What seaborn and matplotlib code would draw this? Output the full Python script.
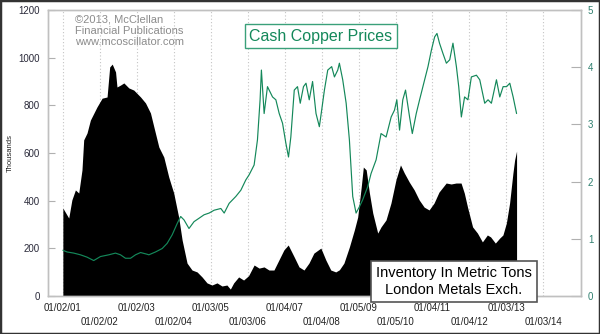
import matplotlib
matplotlib.use("Agg")
import matplotlib.pyplot as plt
import pandas as pd
import seaborn as sns

# ---- data ----
inv_dates = [
    "2001-01-02", "2001-03-01", "2001-04-01", "2001-05-06", "2001-06-08", "2001-07-10",
    "2001-07-27", "2001-08-29", "2001-10-01", "2001-12-05", "2002-01-25", "2002-03-15",
    "2002-04-10", "2002-05-05", "2002-06-07", "2002-06-21", "2002-07-26", "2002-08-28",
    "2002-10-16", "2002-12-04", "2003-02-09", "2003-03-30", "2003-05-18", "2003-06-21",
    "2003-08-09", "2003-09-27", "2003-11-15", "2004-01-03", "2004-02-21", "2004-03-26",
    "2004-05-14", "2004-07-02", "2004-08-21", "2004-10-09", "2004-11-27", "2005-01-15",
    "2005-03-06", "2005-04-24", "2005-06-12", "2005-07-16", "2005-08-18", "2005-10-06",
    "2005-11-24", "2006-01-12", "2006-03-08", "2006-04-26", "2006-06-14", "2006-08-02",
    "2006-09-20", "2006-11-08", "2006-12-27", "2007-02-08", "2007-04-08", "2007-05-26",
    "2007-07-14", "2007-09-01", "2007-10-20", "2007-12-28", "2008-02-15", "2008-04-04",
    "2008-05-23", "2008-06-28", "2008-08-12", "2008-10-05", "2008-11-23", "2008-12-26",
    "2009-01-30", "2009-02-20", "2009-03-20", "2009-04-21", "2009-05-24", "2009-07-12",
    "2009-08-14", "2009-10-02", "2009-11-20", "2010-01-08", "2010-02-22", "2010-04-01",
    "2010-05-20", "2010-07-08", "2010-08-26", "2010-10-14", "2010-12-02", "2011-01-20",
    "2011-03-10", "2011-05-20", "2011-07-08", "2011-08-26", "2011-10-14", "2011-11-15",
    "2011-12-17", "2012-02-05", "2012-03-24", "2012-05-12", "2012-06-30", "2012-08-01",
    "2012-09-17", "2012-10-30", "2012-12-01", "2013-01-04", "2013-02-05", "2013-03-10",
    "2013-03-27", "2013-04-15",
]
inv_values = [
    369, 327, 403, 445, 432, 529,
    655, 684, 738, 793, 830, 835,
    961, 973, 940, 877, 885, 894,
    873, 864, 835, 810, 768, 709,
    625, 583, 499, 432, 331, 235,
    138, 109, 101, 80, 55, 46,
    55, 42, 46, 29, 55, 80,
    67, 85, 130, 117, 122, 109,
    109, 151, 193, 214, 164, 122,
    109, 138, 180, 201, 151, 109,
    101, 110, 138, 206, 277, 331,
    457, 541, 529, 432, 348, 264,
    290, 319, 390, 487, 550, 516,
    478, 445, 403, 373, 361, 390,
    436, 474, 470, 474, 474, 432,
    373, 290, 264, 227, 256, 248,
    222, 243, 256, 306, 390, 516,
    571, 608,
]

cu_dates = [
    "2001-01-02", "2001-02-12", "2001-04-20", "2001-06-25", "2001-08-28", "2001-11-03",
    "2002-01-09", "2002-04-01", "2002-06-06", "2002-07-26", "2002-09-13", "2002-11-02",
    "2002-12-21", "2003-02-09", "2003-04-15", "2003-05-02", "2003-07-07", "2003-09-11",
    "2003-10-30", "2003-12-19", "2004-02-07", "2004-03-12", "2004-04-14", "2004-06-02",
    "2004-07-22", "2004-09-10", "2004-10-29", "2004-12-18", "2005-02-06", "2005-04-13",
    "2005-05-16", "2005-07-04", "2005-09-08", "2005-10-28", "2005-12-16", "2006-01-18",
    "2006-03-08", "2006-04-10", "2006-05-06", "2006-05-19", "2006-06-15", "2006-07-18",
    "2006-09-06", "2006-10-09", "2006-11-11", "2006-12-14", "2007-01-16", "2007-02-11",
    "2007-03-06", "2007-04-09", "2007-05-11", "2007-06-07", "2007-07-09", "2007-08-03",
    "2007-09-04", "2007-10-07", "2007-11-10", "2007-12-13", "2008-01-05", "2008-02-01",
    "2008-03-05", "2008-04-13", "2008-05-10", "2008-06-12", "2008-06-28", "2008-07-31",
    "2008-09-03", "2008-10-05", "2008-11-07", "2008-12-10", "2009-01-12", "2009-02-13",
    "2009-04-04", "2009-05-07", "2009-06-26", "2009-08-14", "2009-10-03", "2009-11-22",
    "2009-12-25", "2010-01-17", "2010-02-13", "2010-03-17", "2010-04-13", "2010-05-23",
    "2010-06-19", "2010-07-28", "2010-08-30", "2010-10-19", "2010-11-21", "2010-12-25",
    "2011-01-26", "2011-02-18", "2011-03-15", "2011-04-18", "2011-05-22", "2011-06-24",
    "2011-07-26", "2011-08-29", "2011-09-21", "2011-10-17", "2011-11-18", "2011-12-21",
    "2012-01-24", "2012-03-14", "2012-04-16", "2012-06-04", "2012-07-07", "2012-08-09",
    "2012-09-28", "2012-10-31", "2012-12-03", "2013-01-06", "2013-02-07", "2013-03-12",
    "2013-04-15",
]
cu_values = [
    0.80, 0.77, 0.75, 0.72, 0.68, 0.62,
    0.69, 0.72, 0.75, 0.72, 0.66, 0.66,
    0.72, 0.76, 0.73, 0.72, 0.77, 0.83,
    0.92, 1.07, 1.27, 1.39, 1.33, 1.18,
    1.30, 1.36, 1.42, 1.45, 1.50, 1.53,
    1.45, 1.62, 1.74, 1.85, 2.03, 2.12,
    2.29, 2.73, 3.43, 3.95, 3.19, 3.66,
    3.48, 3.43, 3.19, 3.02, 2.67, 2.43,
    2.78, 3.60, 3.66, 3.37, 3.66, 3.72,
    3.43, 3.75, 3.19, 2.96, 3.25, 3.60,
    3.95, 4.01, 3.83, 3.95, 4.07, 3.78,
    3.37, 2.73, 1.74, 1.45, 1.56, 1.68,
    1.91, 2.14, 2.38, 2.84, 2.78, 3.13,
    3.25, 3.43, 2.90, 3.43, 3.60, 3.13,
    2.84, 3.19, 3.43, 3.78, 4.01, 4.30,
    4.53, 4.59, 4.42, 4.24, 4.07, 4.13,
    4.42, 4.01, 3.66, 3.13, 3.48, 3.43,
    3.83, 3.86, 3.78, 3.37, 3.43, 3.37,
    3.78, 3.48, 3.66, 3.66, 3.72, 3.48,
    3.19,
]

tick_dates = ["2001-01-02", "2002-01-02", "2003-01-02", "2004-01-02", "2005-01-03",
              "2006-01-03", "2007-01-04", "2008-01-04", "2009-01-05", "2010-01-05",
              "2011-01-04", "2012-01-04", "2013-01-03", "2014-01-03"]
tick_labels = ["01/02/01", "01/02/02", "01/02/03", "01/02/04", "01/03/05", "01/03/06",
               "01/04/07", "01/04/08", "01/05/09", "01/05/10", "01/04/11", "01/04/12",
               "01/03/13", "01/03/14"]
left_ticks = [0, 200, 400, 600, 800, 1000, 1200]
right_ticks = [0, 1, 2, 3, 4, 5]

# ---- style ----
sns.set_style("white")
plt.rcParams["font.family"] = ["Liberation Sans", "DejaVu Sans"]

W, H = 600, 334
fig = plt.figure(figsize=(6.0, 3.34), dpi=100)
ax = fig.add_axes([48 / W, 1 - 296 / H, (581 - 48) / W, (296 - 10) / H])

inv_df = pd.DataFrame({"date": pd.to_datetime(inv_dates), "inv": inv_values})
cu_df = pd.DataFrame({"date": pd.to_datetime(cu_dates), "price": cu_values})

ax.fill_between(inv_df["date"], inv_df["inv"], 0, color="black", lw=0, zorder=2)

ax2 = ax.twinx()
sns.lineplot(data=cu_df, x="date", y="price", ax=ax2, color="#14885a", lw=0.85)

xmin, xmax = pd.Timestamp("2000-08-08"), pd.Timestamp("2015-01-12")
ax.set_xlim(xmin, xmax)
ax2.set_xlim(xmin, xmax)
ax.set_ylim(0, 1200)
ax2.set_ylim(0, 5)

tdates = pd.to_datetime(tick_dates)
ax.set_xticks(tdates)
ax.set_xticklabels([lab if i % 2 == 0 else "\n" + lab for i, lab in enumerate(tick_labels)],
                   fontsize=7, color="#222222", linespacing=1.55)
ax.tick_params(axis="x", length=0, pad=5)
ax.grid(axis="x", linestyle=(0, (1, 2)), color="#c4c4c4", lw=0.8, zorder=0)
ax.grid(axis="y", visible=False)
ax.set_axisbelow(True)

ax.set_yticks(left_ticks)
ax.set_yticklabels([str(v) for v in left_ticks], fontsize=7, color="#2a2a3a")
ax.tick_params(axis="y", direction="in", length=5, color="#b0b0b0", pad=6)

ax2.set_yticks(right_ticks)
ax2.set_yticklabels([str(v) for v in right_ticks], fontsize=7, color="#2e7f6e")
ax2.tick_params(axis="y", direction="in", length=7, color="#b0b0b0", pad=5)
ax2.set_xlabel("")
ax2.set_ylabel("")
ax.set_xlabel("")
ax.set_ylabel("")
ax2.grid(False)

for a in (ax, ax2):
    for s in a.spines.values():
        s.set_color("#c0c0c0")
        s.set_linewidth(1.0)

# ---- texts ----
fig.text(10 / W, 1 - 153 / H, "Thousands", rotation=90, fontsize=5.5,
         color="#222222", ha="center", va="center")

fig.text(75 / W, 1 - 15 / H, "©2013, McClellan\nFinancial Publications\nwww.mcoscillator.com",
         fontsize=8, color="#8c8c8c", ha="left", va="top", linespacing=1.15)

fig.text(321 / W, 1 - 36 / H, "Cash Copper Prices", fontsize=11.5, color="#14885a",
         ha="center", va="center",
         bbox=dict(boxstyle="square,pad=0.3", fc="white", ec="#3aa07a", lw=1.0))

fig.text(454 / W, 1 - 281.5 / H, "Inventory In Metric Tons\nLondon Metals Exch.",
         fontsize=10.5, color="black", ha="center", va="center", linespacing=1.25,
         bbox=dict(boxstyle="square,pad=0.35", fc="white", ec="#555555", lw=1.2),
         zorder=10)

# figure border
fig.patches.append(plt.Rectangle((0, 0), 1, 1, transform=fig.transFigure,
                                 fill=False, ec="#333333", lw=2.5))

fig.savefig("out.png", dpi=100, facecolor="white")
